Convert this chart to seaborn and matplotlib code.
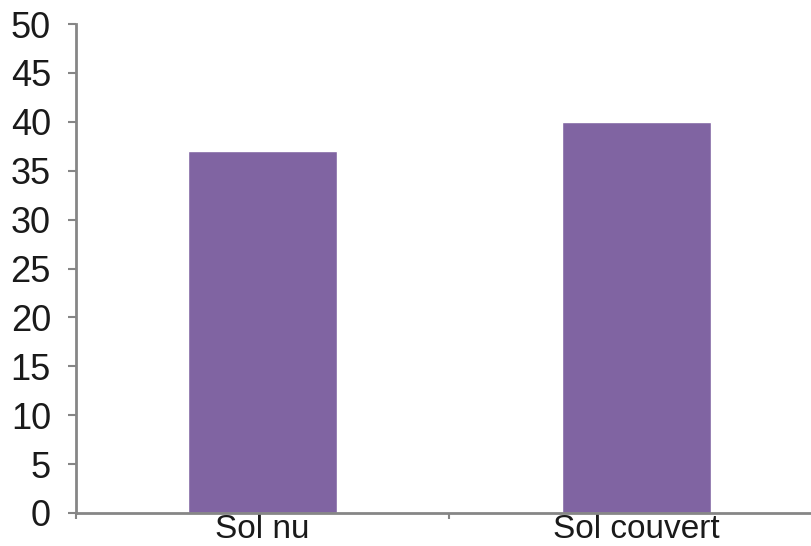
import matplotlib
matplotlib.use("Agg")
import matplotlib.pyplot as plt
import seaborn as sns
import pandas as pd

# données du graphique
categories = ["Sol nu", "Sol couvert"]
valeurs = [37, 40]
yticks = [0, 5, 10, 15, 20, 25, 30, 35, 40, 45, 50]

sns.set_theme(style="white")
plt.rcParams["font.family"] = ["Liberation Sans", "DejaVu Sans"]

df = pd.DataFrame({"Sol": categories, "Valeur": valeurs})

fig = plt.figure(figsize=(8.12, 5.46), dpi=100)
ax = fig.add_axes([76 / 812, 1 - 513 / 546, (823 - 76) / 812, (513 - 24) / 546])

sns.barplot(data=df, x="Sol", y="Valeur", color="#8064A2", width=0.40,
            saturation=1, ax=ax)

ax.set_ylim(0, 50)
ax.set_xlim(-0.5, 1.5)
ax.set_yticks(yticks)
ax.set_yticklabels([str(v) for v in yticks], fontsize=26, color="#1a1a1a")
ax.set_xticks([-0.5, 0.5, 1.5], minor=False)
ax.set_xticklabels([])
ax.set_xticks([0, 1], minor=True)
ax.set_xticklabels(categories, minor=True, fontsize=24, color="#1a1a1a")
ax.tick_params(axis="x", which="major", direction="out", length=4, width=1.5,
               color="#868686", bottom=True)
ax.tick_params(axis="x", which="minor", length=0, pad=1)
ax.tick_params(axis="y", direction="out", length=6, width=1.5, color="#868686",
               left=True, pad=12)
ax.set_xlabel("")
ax.set_ylabel("")

for s in ["top", "right"]:
    ax.spines[s].set_visible(False)
for s in ["left", "bottom"]:
    ax.spines[s].set_color("#868686")
    ax.spines[s].set_linewidth(2)

fig.savefig("out.png", dpi=100)
